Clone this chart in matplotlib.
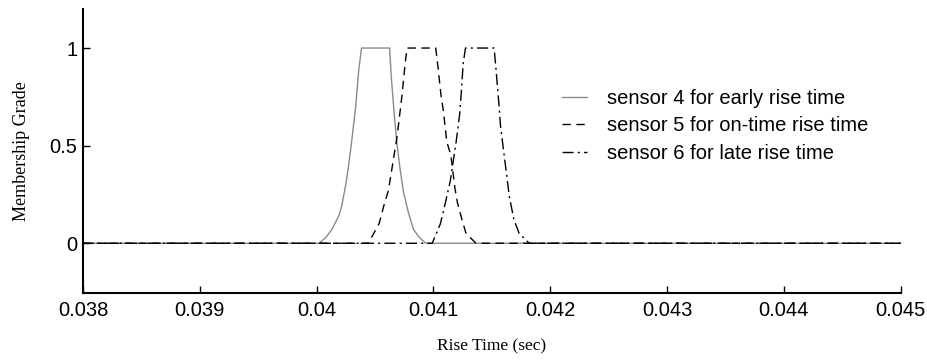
import numpy as np
import matplotlib.pyplot as plt

# Membership functions (rise time in sec, membership grade)
s4_x = [0.038, 0.040020, 0.040080, 0.040130, 0.040190, 0.040215, 0.040250, 0.040275,
        0.040300, 0.040335, 0.040360, 0.040385, 0.040625, 0.040640, 0.040665, 0.040690,
        0.040715, 0.040745, 0.040785, 0.040830, 0.040880, 0.040935, 0.045]
s4_y = [0, 0, 0.03, 0.07, 0.14, 0.19, 0.30, 0.40,
        0.52, 0.70, 0.88, 1.0, 1.0, 0.85, 0.66, 0.50,
        0.38, 0.26, 0.16, 0.07, 0.03, 0, 0]

s5_x = [0.038, 0.040440, 0.040480, 0.040535, 0.040575, 0.040615, 0.040650, 0.040690,
        0.040730, 0.040760, 0.040775, 0.041020, 0.041040, 0.041065, 0.041085, 0.041115,
        0.041150, 0.041185, 0.041205, 0.041245, 0.041280, 0.041365, 0.045]
s5_y = [0, 0, 0.04, 0.10, 0.19, 0.27, 0.40, 0.55,
        0.75, 0.93, 1.0, 1.0, 0.90, 0.76, 0.68, 0.52,
        0.45, 0.28, 0.21, 0.12, 0.05, 0, 0]

s6_x = [0.038, 0.040990, 0.041060, 0.041100, 0.041145, 0.041175, 0.041195, 0.041225,
        0.041240, 0.041255, 0.041275, 0.041520, 0.041535, 0.041560, 0.041575, 0.041600,
        0.041625, 0.041650, 0.041690, 0.041735, 0.041820, 0.045]
s6_y = [0, 0, 0.10, 0.20, 0.32, 0.44, 0.52, 0.66,
        0.78, 0.92, 1.0, 1.0, 0.90, 0.72, 0.60, 0.48,
        0.36, 0.24, 0.12, 0.05, 0, 0]

labels = ["sensor 4 for early rise time",
          "sensor 5 for on-time rise time",
          "sensor 6 for late rise time"]
x_ticks = [0.038, 0.039, 0.04, 0.041, 0.042, 0.043, 0.044, 0.045]
x_ticklabels = ["0.038", "0.039", "0.04", "0.041", "0.042", "0.043", "0.044", "0.045"]
y_ticks = [0, 0.5, 1]
y_ticklabels = ["0", "0.5", "1"]

plt.rcParams['font.family'] = ['Liberation Sans', 'DejaVu Sans']

fig = plt.figure(figsize=(9.27, 3.6), dpi=100)
ax = fig.add_axes([0.0895, 0.186, 0.882, 0.789])

ax.plot(s4_x, s4_y, color="#8a8a8a", lw=1.0, linestyle="-", label=labels[0])
ax.plot(s5_x, s5_y, color="black", lw=1.0, linestyle=(0, (6, 4)), label=labels[1])
ax.plot(s6_x, s6_y, color="black", lw=1.0, linestyle=(0, (8, 3, 1.5, 3)), label=labels[2])

ax.set_xlim(0.038, 0.045)
ax.set_ylim(-0.255, 1.2)
ax.set_xticks(x_ticks)
ax.set_xticklabels(x_ticklabels, fontsize=14.5)
ax.set_yticks(y_ticks)
ax.set_yticklabels(y_ticklabels, fontsize=14.5)
ax.tick_params(direction="in", length=5, width=1)
ax.tick_params(axis="x", pad=6)
ax.tick_params(axis="y", pad=4)

ax.spines["top"].set_visible(False)
ax.spines["right"].set_visible(False)
ax.spines["left"].set_linewidth(1.5)
ax.spines["bottom"].set_linewidth(1.5)

ax.set_xlabel("Rise Time (sec)", family="Liberation Serif", fontsize=12.5, labelpad=13)
ax.set_ylabel("Membership Grade", family="Liberation Serif", fontsize=13, labelpad=14)

ax.legend(loc="upper left", bbox_to_anchor=(0.574, 0.755), frameon=False,
          fontsize=14.5, handlelength=1.2, handletextpad=1.0, labelspacing=0.42,
          borderpad=0)

fig.savefig("out.png", dpi=100)
